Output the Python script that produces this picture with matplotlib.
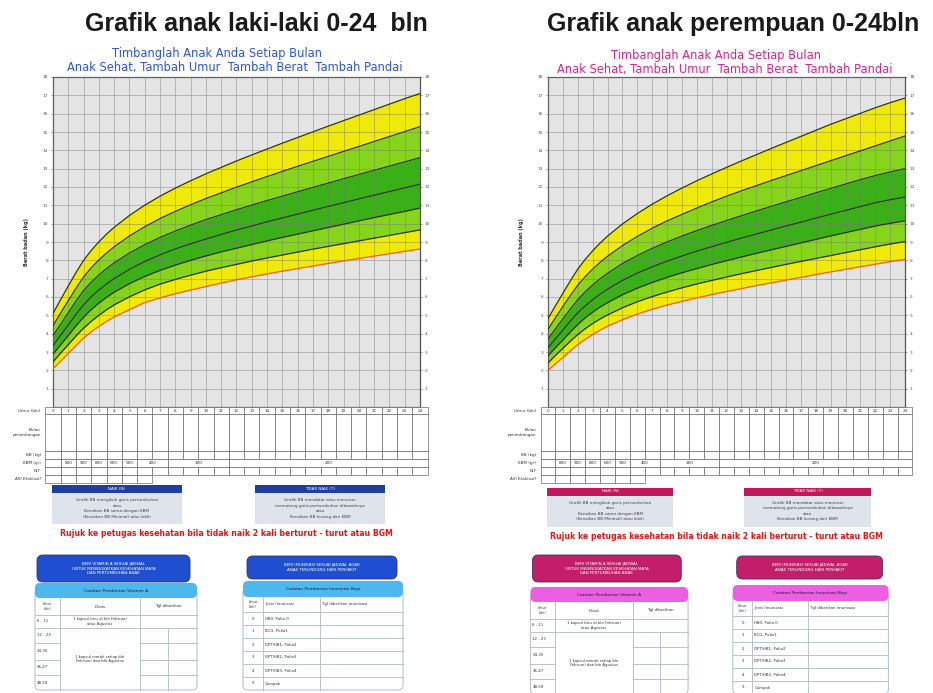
import matplotlib.pyplot as plt
from matplotlib.patches import Rectangle, FancyBboxPatch

W, H = 933, 693

months = list(range(25))
# titik umur kurva: setengah bulan di awal, lalu tiap bulan
ages = [0, 0.5, 1, 1.5, 2, 2.5, 3, 3.5] + list(range(4, 25))

# berat badan (kg) menurut umur, dibaca dari kurva: -3SD .. +3SD
boys_m3 = [2.08, 2.50, 2.92, 3.35, 3.76, 4.10, 4.40, 4.67, 4.91, 5.31, 5.70, 5.95, 6.18, 6.38, 6.57, 6.76, 6.94, 7.10, 7.26, 7.41, 7.55, 7.69, 7.83, 7.97, 8.10, 8.23, 8.36, 8.49, 8.62]
boys_m2 = [2.46, 2.94, 3.40, 3.87, 4.30, 4.67, 5.00, 5.30, 5.57, 6.01, 6.39, 6.70, 6.96, 7.19, 7.41, 7.60, 7.78, 7.96, 8.13, 8.29, 8.45, 8.61, 8.76, 8.91, 9.06, 9.21, 9.36, 9.51, 9.66]
boys_m1 = [2.88, 3.39, 3.90, 4.42, 4.90, 5.31, 5.67, 5.98, 6.26, 6.73, 7.12, 7.45, 7.74, 8.00, 8.24, 8.46, 8.66, 8.86, 9.06, 9.25, 9.43, 9.61, 9.79, 9.97, 10.15, 10.33, 10.50, 10.67, 10.85]
boys_med = [3.35, 3.91, 4.47, 5.04, 5.57, 6.01, 6.38, 6.71, 7.00, 7.51, 7.93, 8.30, 8.62, 8.90, 9.16, 9.41, 9.65, 9.87, 10.10, 10.31, 10.52, 10.73, 10.94, 11.14, 11.35, 11.55, 11.75, 11.95, 12.15]
boys_p1 = [3.88, 4.52, 5.14, 5.77, 6.35, 6.81, 7.20, 7.55, 7.86, 8.40, 8.85, 9.25, 9.60, 9.92, 10.22, 10.49, 10.76, 11.01, 11.26, 11.50, 11.74, 11.98, 12.21, 12.45, 12.68, 12.91, 13.14, 13.37, 13.60]
boys_p2 = [4.43, 5.13, 5.80, 6.47, 7.09, 7.59, 8.02, 8.40, 8.74, 9.33, 9.83, 10.28, 10.67, 11.03, 11.37, 11.68, 11.99, 12.28, 12.57, 12.85, 13.13, 13.40, 13.67, 13.94, 14.21, 14.48, 14.75, 15.02, 15.29]
boys_p3 = [5.10, 5.86, 6.60, 7.33, 8.00, 8.54, 9.01, 9.43, 9.80, 10.45, 11.01, 11.50, 11.94, 12.34, 12.72, 13.07, 13.42, 13.75, 14.07, 14.39, 14.70, 15.01, 15.32, 15.62, 15.92, 16.22, 16.52, 16.82, 17.10]

girls_m3 = [2.00, 2.35, 2.70, 3.06, 3.40, 3.69, 3.95, 4.19, 4.40, 4.76, 5.07, 5.33, 5.56, 5.76, 5.95, 6.13, 6.30, 6.46, 6.62, 6.77, 6.92, 7.07, 7.22, 7.37, 7.51, 7.65, 7.79, 7.93, 8.05]
girls_m2 = [2.40, 2.81, 3.20, 3.59, 3.95, 4.27, 4.55, 4.80, 5.02, 5.41, 5.74, 6.02, 6.27, 6.50, 6.71, 6.90, 7.09, 7.27, 7.44, 7.61, 7.78, 7.94, 8.10, 8.26, 8.42, 8.58, 8.74, 8.89, 9.02]
girls_m1 = [2.80, 3.23, 3.65, 4.09, 4.50, 4.86, 5.17, 5.45, 5.69, 6.12, 6.48, 6.79, 7.07, 7.32, 7.55, 7.77, 7.98, 8.18, 8.38, 8.57, 8.76, 8.95, 9.14, 9.33, 9.51, 9.69, 9.87, 10.02, 10.15]
girls_med = [3.23, 3.71, 4.19, 4.68, 5.13, 5.51, 5.85, 6.15, 6.42, 6.90, 7.30, 7.64, 7.95, 8.23, 8.50, 8.74, 8.98, 9.21, 9.43, 9.65, 9.87, 10.08, 10.30, 10.51, 10.72, 10.93, 11.14, 11.30, 11.45]
girls_p1 = [3.71, 4.26, 4.80, 5.34, 5.85, 6.28, 6.65, 6.99, 7.29, 7.82, 8.26, 8.65, 9.00, 9.32, 9.62, 9.90, 10.17, 10.43, 10.69, 10.94, 11.19, 11.43, 11.68, 11.92, 12.16, 12.40, 12.62, 12.82, 13.00]
girls_p2 = [4.23, 4.87, 5.48, 6.08, 6.64, 7.11, 7.52, 7.89, 8.22, 8.80, 9.30, 9.75, 10.15, 10.50, 10.85, 11.18, 11.50, 11.79, 12.07, 12.35, 12.62, 12.89, 13.16, 13.43, 13.70, 13.97, 14.24, 14.51, 14.78]
girls_p3 = [4.82, 5.52, 6.20, 6.88, 7.52, 8.05, 8.52, 8.94, 9.32, 9.98, 10.55, 11.06, 11.52, 11.94, 12.34, 12.71, 13.07, 13.42, 13.76, 14.10, 14.43, 14.76, 15.09, 15.42, 15.72, 16.02, 16.32, 16.60, 16.85]

row_labels = ['Umur (bln)', 'Bulan\npenimbangan', 'BB (kg)', 'KBM (gr)', 'N/T', 'ASI Eksklusif']
kbm_spans = [(0, 0), (1, 1), (2, 2), (3, 3), (4, 4), (5, 5), (6, 7), (8, 11), (12, 24)]
kbm_values = ['', '800', '900', '800', '600', '500', '400', '300', '200']

naik_lines = ['Grafik BB mengikuti garis pertumbuhan', 'atau', 'Kenaikan BB sama dengan KBM',
              '(Kenaikan BB Minimal) atau lebih']
tidak_lines = ['Grafik BB mendatar atau menurun', 'memotong garis pertumbuhan dibawahnya', 'atau',
               'Kenaikan BB kurang dari KBM']
rujuk_text = 'Rujuk ke petugas kesehatan bila tidak naik 2 kali berturut - turut atau BGM'

vit_ages = ['6 - 11', '12 - 23', '24-35', '36-47', '48-59']
vit_dose = ['1 kapsul biru di bln Februari\natau Agustus', '1 kapsul merah setiap bln\nFebruari dan bln Agustus']
imun_ages = ['0', '1', '2', '3', '4', '9']
imun_names = ['HB0, Polio 0', 'BCG, Polio1', 'DPT/HB1, Polio2', 'DPT/HB2, Polio3', 'DPT/HB3, Polio4', 'Campak']

band_colors = ['#f0ea0a', '#86d41c', '#3aaf18', '#3aaf18', '#86d41c', '#f0ea0a']


def px_axes(fig, x0, y0, x1, y1):
    return fig.add_axes([x0 / W, 1 - y1 / H, (x1 - x0) / W, (y1 - y0) / H])


def draw_chart(fig, x0, x1, curves):
    ax = px_axes(fig, x0, 77, x1, 407)
    ax.set_facecolor('#e4e4e4')
    for i in range(6):
        ax.fill_between(ages, curves[i], curves[i + 1], color=band_colors[i], lw=0, zorder=2)
    for m in months:
        ax.axvline(m, color='#777777', lw=0.5, alpha=0.6, zorder=3)
    for v in range(19):
        ax.axhline(v, color='#777777', lw=0.5, alpha=0.6, zorder=3)
    for i, c in enumerate(curves):
        ax.plot(ages, c, color='#ff5a00' if i == 0 else '#2c3a0c', lw=0.9, zorder=4)
    ax.set_xlim(0, 24)
    ax.set_ylim(0, 18)
    ax.set_xticks([])
    ax.set_yticks(range(1, 19))
    ax.tick_params(axis='y', labelsize=3.2, length=1.5, width=0.4, colors='#555555',
                   right=True, labelright=True, pad=2)
    for s in ax.spines.values():
        s.set_color('#555555')
        s.set_linewidth(0.9)
    ax.set_ylabel('Berat badan (kg)', fontsize=3.6, labelpad=10, color='#333333', fontweight='bold')


def draw_table(fig, x0, x1):
    step = (x1 - x0) / 24
    tax = px_axes(fig, x0 - step / 2, 407, x1 + step / 2, 483)
    tax.set_xlim(-0.5, 24.5)
    tax.set_ylim(76, 0)
    tax.axis('off')
    edges = [0, 7, 44, 52, 60, 68, 76]

    def cell(a, b, r, txt=''):
        tax.add_patch(Rectangle((a - 0.5, edges[r]), b - a + 1, edges[r + 1] - edges[r],
                                fc='white', ec='#6a6a6a', lw=0.5, clip_on=False))
        if txt:
            tax.text((a + b) / 2, (edges[r] + edges[r + 1]) / 2, txt, ha='center', va='center',
                     fontsize=3, color='#333333')

    for m in months:
        cell(m, m, 0, str(m))
        cell(m, m, 1)
        cell(m, m, 2)
        cell(m, m, 4)
    for (a, b), t in zip(kbm_spans, kbm_values):
        cell(a, b, 3, t)
    for m in range(7):
        cell(m, m, 5)
    for r, lab in enumerate(row_labels):
        tax.text(-0.8, (edges[r] + edges[r + 1]) / 2, lab, ha='right', va='center',
                 fontsize=3, color='#333333', linespacing=1.1)


def draw_notes(ov, cx0, cw, dy, dyb, head_col, rbox_col, cat_col):
    def sx(x):
        return cx0 + (x - 53) * cw / 367

    for (a, b), head, lines in [((52, 182), 'NAIK (N)', naik_lines),
                                ((255, 385), 'TIDAK NAIK (T)', tidak_lines)]:
        xa, xb = sx(a), sx(b)
        ov.add_patch(Rectangle((xa, 485 + dy), xb - xa, 8, fc=head_col, ec='none'))
        ov.text((xa + xb) / 2, 489 + dy, head, color='white', fontsize=3, ha='center', va='center')
        ov.add_patch(Rectangle((xa, 493 + dy), xb - xa, 31, fc='#dfe3ec', ec='none'))
        ov.text((xa + xb) / 2, 508.5 + dy, '\n'.join(lines), fontsize=3, ha='center', va='center',
                color='#444444', linespacing=1.45)
    ov.text(sx(226), 534 + dy, rujuk_text, color='#ee1111', fontsize=5.6, fontweight='bold',
            ha='center', va='center')

    # vitamin A
    xs = [sx(v) for v in [35, 60, 140, 168, 197]]
    top = 598 + dyb
    ys = [top + v for v in [0, 17, 30, 45, 62, 77, 92]]
    ov.add_patch(FancyBboxPatch((xs[0], top - 10), xs[-1] - xs[0], ys[-1] - top + 10,
                                boxstyle='round,pad=0,rounding_size=5', fc='white', ec='#b8c4d8', lw=0.8))
    ov.add_patch(FancyBboxPatch((xs[0], top - 15), xs[-1] - xs[0], 15,
                                boxstyle='round,pad=0,rounding_size=5', fc=cat_col, ec='none'))
    ov.text((xs[0] + xs[-1]) / 2, top - 7.5, 'Catatan Pemberian Vitamin A', fontsize=3.2,
            ha='center', va='center', color='#1a1a40')
    ov.add_patch(FancyBboxPatch((sx(37), 555), sx(190) - sx(37), 27,
                                boxstyle='round,pad=0,rounding_size=6', fc=rbox_col, ec='#333366', lw=0.6))
    ov.text((sx(37) + sx(190)) / 2, 568.5, 'BERI VITAMIN A SESUAI JADWAL\nUNTUK MENINGKATKAN KESEHATAN MATA\nDAN PERTUMBUHAN ANAK',
            fontsize=2.9, color='white', ha='center', va='center', linespacing=1.3)
    lc = '#b0b8c8'
    for y in ys[1:-1]:
        ov.plot([xs[0], xs[1]], [y, y], color=lc, lw=0.6)
        ov.plot([xs[2], xs[4]], [y, y], color=lc, lw=0.6)
    ov.plot([xs[1], xs[2]], [ys[1], ys[1]], color=lc, lw=0.6)
    ov.plot([xs[1], xs[2]], [ys[2], ys[2]], color=lc, lw=0.6)
    ov.plot([xs[1], xs[1]], [ys[0], ys[-1]], color=lc, lw=0.6)
    ov.plot([xs[2], xs[2]], [ys[0], ys[-1]], color=lc, lw=0.6)
    ov.plot([xs[3], xs[3]], [ys[2], ys[-1]], color=lc, lw=0.6)
    ov.text((xs[0] + xs[1]) / 2, (ys[0] + ys[1]) / 2, 'Umur\n(bln)', fontsize=2.4, ha='center', va='center', color='#333')
    ov.text((xs[1] + xs[2]) / 2, (ys[0] + ys[1]) / 2, 'Dosis', fontsize=3, ha='center', va='center', color='#333')
    ov.text((xs[2] + xs[4]) / 2, (ys[0] + ys[1]) / 2, 'Tgl diberikan', fontsize=3, ha='center', va='center', color='#333')
    for i, a in enumerate(vit_ages):
        ov.text(xs[0] + 2, (ys[i + 1] + ys[i + 2]) / 2, a, fontsize=2.8, va='center', color='#333')
    ov.text((xs[1] + xs[2]) / 2, (ys[1] + ys[2]) / 2, vit_dose[0], fontsize=2.7, ha='center', va='center', color='#333')
    ov.text((xs[1] + xs[2]) / 2, (ys[2] + ys[-1]) / 2, vit_dose[1], fontsize=2.7, ha='center', va='center', color='#333')

    # imunisasi
    xs = [sx(v) for v in [243, 263, 320, 403]]
    top = 597 + dyb
    ys = [top] + [top + 15 + 13 * i for i in range(7)]
    ov.add_patch(FancyBboxPatch((xs[0], top - 10), xs[-1] - xs[0], ys[-1] - top + 10,
                                boxstyle='round,pad=0,rounding_size=5', fc='white', ec='#b8c4d8', lw=0.8))
    ov.add_patch(FancyBboxPatch((xs[0], top - 16), xs[-1] - xs[0], 16,
                                boxstyle='round,pad=0,rounding_size=5', fc=cat_col, ec='none'))
    ov.text((xs[0] + xs[-1]) / 2, top - 8, 'Catatan Pemberian Imunisasi Bayi', fontsize=3.2,
            ha='center', va='center', color='#1a1a40')
    ov.add_patch(FancyBboxPatch((sx(247), 556), sx(397) - sx(247), 23,
                                boxstyle='round,pad=0,rounding_size=6', fc=rbox_col, ec='#333366', lw=0.6))
    ov.text((sx(247) + sx(397)) / 2, 567.5, 'BERI IMUNISASI SESUAI JADWAL AGAR\nANAK TERLINDUNG DARI PENYAKIT',
            fontsize=2.9, color='white', ha='center', va='center', linespacing=1.3)
    for y in ys[1:-1]:
        ov.plot([xs[0], xs[-1]], [y, y], color=lc, lw=0.6)
    for x in xs[1:-1]:
        ov.plot([x, x], [ys[0], ys[-1]], color=lc, lw=0.6)
    ov.text((xs[0] + xs[1]) / 2, (ys[0] + ys[1]) / 2, 'Umur\n(bln)', fontsize=2.4, ha='center', va='center', color='#333')
    ov.text(xs[1] + 2, (ys[0] + ys[1]) / 2, 'Jenis Imunisasi', fontsize=2.8, va='center', color='#333')
    ov.text(xs[2] + 2, (ys[0] + ys[1]) / 2, 'Tgl diberikan imunisasi', fontsize=2.8, va='center', color='#333')
    for i, (a, n) in enumerate(zip(imun_ages, imun_names)):
        yc = (ys[i + 1] + ys[i + 2]) / 2
        ov.text((xs[0] + xs[1]) / 2, yc, a, fontsize=2.8, ha='center', va='center', color='#333')
        ov.text(xs[1] + 2, yc, n, fontsize=2.8, va='center', color='#333')


fig = plt.figure(figsize=(W / 100, H / 100), dpi=100)
ov = fig.add_axes([0, 0, 1, 1])
ov.set_xlim(0, W)
ov.set_ylim(H, 0)
ov.axis('off')

# kiri: laki-laki
ov.text(256, 24, 'Grafik anak laki-laki 0-24  bln', fontsize=18, fontweight='bold',
        family='Liberation Sans', ha='center', va='center', color='#1a1a1a')
ov.text(217, 53, 'Timbanglah Anak Anda Setiap Bulan', fontsize=8.3, color='#2c55e0', ha='center', va='center')
ov.text(235, 68, 'Anak Sehat, Tambah Umur  Tambah Berat  Tambah Pandai', fontsize=8.3, color='#2c55e0',
        ha='center', va='center')
draw_chart(fig, 53, 420, [boys_m3, boys_m2, boys_m1, boys_med, boys_p1, boys_p2, boys_p3])
draw_table(fig, 53, 420)
draw_notes(ov, 53, 367, 0, 0, '#1f3f9f', '#1f4fd0', '#4cb8ee')

# kanan: perempuan
ov.text(733, 24, 'Grafik anak perempuan 0-24bln', fontsize=18, fontweight='bold',
        family='Liberation Sans', ha='center', va='center', color='#1a1a1a')
ov.text(716, 56, 'Timbanglah Anak Anda Setiap Bulan', fontsize=8.3, color='#e02288', ha='center', va='center')
ov.text(725, 70, 'Anak Sehat, Tambah Umur  Tambah Berat  Tambah Pandai', fontsize=8.3, color='#e02288',
        ha='center', va='center')
draw_chart(fig, 548, 905, [girls_m3, girls_m2, girls_m1, girls_med, girls_p1, girls_p2, girls_p3])
draw_table(fig, 548, 905)
draw_notes(ov, 548, 357, 2.5, 4, '#c2185b', '#c41e6a', '#ec5fe0')

fig.savefig('out.png', dpi=100, facecolor='white')
